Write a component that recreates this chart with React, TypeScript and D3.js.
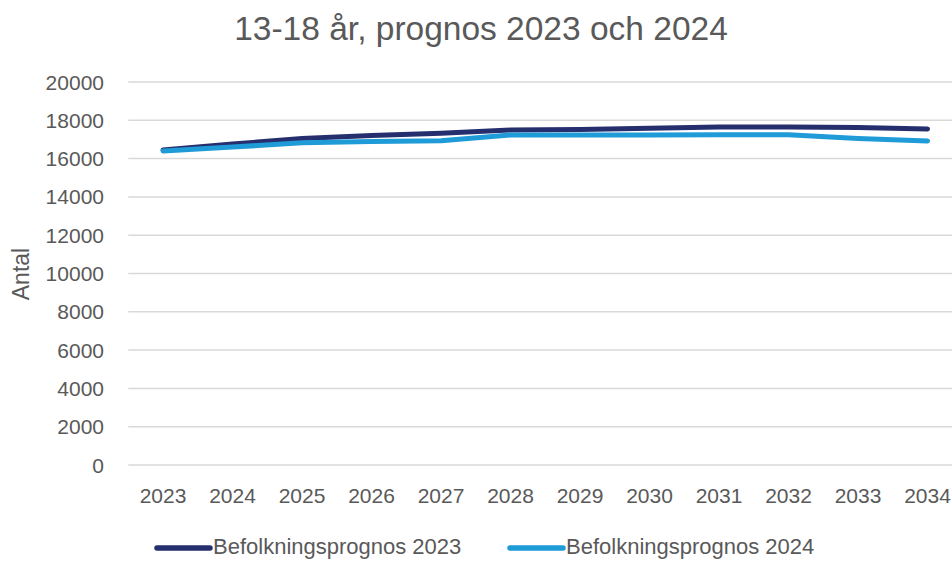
import React from "react";
import * as d3 from "d3";

const years = ["2023","2024","2025","2026","2027","2028","2029","2030","2031","2032","2033","2034"];
const prognos2023 = [16450, 16760, 17050, 17200, 17320, 17490, 17520, 17580, 17650, 17650, 17630, 17550];
const prognos2024 = [16400, 16600, 16830, 16890, 16930, 17230, 17230, 17230, 17250, 17250, 17050, 16920];
const yTicks = [0, 2000, 4000, 6000, 8000, 10000, 12000, 14000, 16000, 18000, 20000];
const seriesNames = ["Befolkningsprognos 2023", "Befolkningsprognos 2024"];

const W = 952, H = 561;
const left = 128.3, right = 128.3 + 12 * 69.5;
const top = 82, bottom = 465;
const font = "'Liberation Sans', Arial, sans-serif";
const textColor = "#595959";
const colors = ["#262f6e", "#1f9bd7"];

export default function App() {
  const x = d3.scalePoint<string>().domain(years).range([left, right]).padding(0.5);
  const y = d3.scaleLinear().domain([0, 20000]).range([bottom, top]);
  const line = d3.line<number>().x((_, i) => x(years[i]) as number).y(d => y(d));
  const series = [prognos2023, prognos2024];

  return (
    <svg width={W} height={H} style={{ position: "absolute", left: 0, top: 0, background: "#fff" }}>
      <text x={481} y={40} textAnchor="middle" fontFamily={font} fontSize={33.5} fill={textColor}>
        13-18 år, prognos 2023 och 2024
      </text>
      {yTicks.map(t => (
        <g key={t}>
          <line x1={left} x2={W} y1={y(t)} y2={y(t)} stroke="#d9d9d9" strokeWidth={1.5} />
          <text x={104} y={y(t) + 7.5} textAnchor="end" fontFamily={font} fontSize={21} fill={textColor}>{t}</text>
        </g>
      ))}
      {years.map(yr => (
        <text key={yr} x={x(yr)} y={503} textAnchor="middle" fontFamily={font} fontSize={21} fill={textColor}>{yr}</text>
      ))}
      <text transform="translate(29,274) rotate(-90)" textAnchor="middle" fontFamily={font} fontSize={23} fill={textColor}>Antal</text>
      {series.map((s, i) => (
        <path key={i} d={line(s) || ""} fill="none" stroke={colors[i]} strokeWidth={5} strokeLinecap="round" strokeLinejoin="round" />
      ))}
      {seriesNames.map((n, i) => {
        const lx = i === 0 ? 157 : 510;
        return (
          <g key={n}>
            <line x1={lx} x2={lx + 53} y1={548} y2={548} stroke={colors[i]} strokeWidth={5.5} strokeLinecap="round" />
            <text x={lx + 56} y={554} fontFamily={font} fontSize={22} fill={textColor}>{n}</text>
          </g>
        );
      })}
    </svg>
  );
}
